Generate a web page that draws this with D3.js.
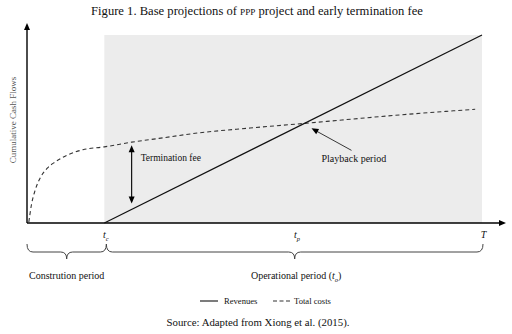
<!DOCTYPE html>
<html>
<head>
<meta charset="utf-8">
<script src="https://cdn.jsdelivr.net/npm/d3@7"></script>
<style>
  html, body { margin: 0; padding: 0; background: #fff; }
  svg { display: block; font-family: "Liberation Serif", "DejaVu Serif", serif; }
</style>
</head>
<body>
<svg id="chart" width="512" height="334"></svg>
<script>
// Time axis (0 = start of construction, 100 = end of concession T)
const tc = 17;      // completion of construction
const tp = 59;      // payback time
const T = 100;      // end of concession

// Cumulative revenues: zero until completion, then linear growth
const revenueTime = [17, 100];
const revenueValue = [0, 100];

// Cumulative total costs: steep during construction, flattening afterwards
const costTime  = [0.4, 1, 1.8, 2.9, 4.4, 6.2, 8.8, 12.3, 17, 23, 29, 38, 49, 61, 82, 98.5];
const costValue = [0.5, 10, 17.5, 24, 29, 32.5, 36, 39, 40.5, 43, 45, 48, 50.5, 53, 57.5, 60.5];

// Tick labels on the time axis
const tickTimes = [tc, tp, T];
const tickMain = ["t", "t", "T"];
const tickSub  = ["c", "p", ""];

const feeTime = 23;   // where the termination fee is illustrated

const svg = d3.select("#chart");
const x = d3.scaleLinear().domain([0, 100]).range([27, 482]);
const y = d3.scaleLinear().domain([0, 100]).range([223, 35]);

// Title
const title = svg.append("text")
  .attr("x", 257).attr("y", 15)
  .attr("text-anchor", "middle")
  .attr("font-size", 12.6)
  .attr("fill", "#111");
title.append("tspan").text("Figure 1. Base projections of ");
title.append("tspan").attr("font-size", 9.2).text("PPP");
title.append("tspan").text(" project and early termination fee");

// Operational period shading
svg.append("rect")
  .attr("x", x(tc)).attr("y", y(100))
  .attr("width", x(T) - x(tc)).attr("height", y(0) - y(100))
  .attr("fill", "#ececec");

// Axes with arrowheads
const axisG = svg.append("g").attr("stroke", "#000").attr("fill", "#000");
axisG.append("line").attr("x1", x(0)).attr("y1", y(0)).attr("x2", x(0)).attr("y2", 29)
  .attr("stroke-width", 1.4);
axisG.append("path").attr("d", `M${x(0)},23 L${x(0) - 3},30 L${x(0) + 3},30 Z`).attr("stroke", "none");
axisG.append("line").attr("x1", x(0)).attr("y1", y(0)).attr("x2", 500).attr("y2", y(0))
  .attr("stroke-width", 1.4);
axisG.append("path").attr("d", `M506,${y(0)} L499,${y(0) - 3} L499,${y(0) + 3} Z`).attr("stroke", "none");

// Tick labels via d3 axis
const xAxis = d3.axisBottom(x).tickValues(tickTimes).tickSize(0).tickFormat(() => "");
const axG = svg.append("g").attr("transform", `translate(1,${y(0) + 3})`).call(xAxis);
axG.select(".domain").remove();
axG.selectAll(".tick text").each(function(d, i) {
  const t = d3.select(this)
    .attr("font-family", "Liberation Serif, serif")
    .attr("font-size", 10)
    .attr("font-style", "italic")
    .attr("fill", "#111")
    .attr("dy", "0.9em");
  t.append("tspan").text(tickMain[i]);
  if (tickSub[i]) t.append("tspan").attr("font-size", 6.5).attr("dy", 2.5).text(tickSub[i]);
});

// Total costs (dashed)
const costPts = costTime.map((t, i) => [t, costValue[i]]);
svg.append("path")
  .datum(costPts)
  .attr("fill", "none")
  .attr("stroke", "#333")
  .attr("stroke-width", 1.1)
  .attr("stroke-dasharray", "4,3")
  .attr("d", d3.line().x(d => x(d[0])).y(d => y(d[1])).curve(d3.curveMonotoneX));

// Revenues (solid)
const revPts = revenueTime.map((t, i) => [t, revenueValue[i]]);
svg.append("path")
  .datum(revPts)
  .attr("fill", "none")
  .attr("stroke", "#111")
  .attr("stroke-width", 1.2)
  .attr("d", d3.line().x(d => x(d[0])).y(d => y(d[1])));

// Helpers for values at a given time
const revAt = t => d3.scaleLinear().domain(revenueTime).range(revenueValue)(t);
const costAt = t => d3.scaleLinear().domain(costTime).range(costValue)(t);

// Termination fee double arrow
const fx = x(feeTime), fTop = y(costAt(feeTime)) + 3, fBot = y(revAt(feeTime)) - 6;
svg.append("line").attr("x1", fx).attr("x2", fx).attr("y1", fTop + 6).attr("y2", fBot - 6)
  .attr("stroke", "#000").attr("stroke-width", 1.1);
svg.append("path").attr("d", `M${fx},${fTop} L${fx - 3},${fTop + 7} L${fx + 3},${fTop + 7} Z`);
svg.append("path").attr("d", `M${fx},${fBot} L${fx - 3},${fBot - 7} L${fx + 3},${fBot - 7} Z`);
svg.append("text").attr("x", fx + 9).attr("y", y(costAt(feeTime)) + 19)
  .attr("font-size", 9.5).attr("fill", "#111").text("Termination fee");

// Payback point: where revenues meet total costs
let crossT = tp;
for (let i = 0; i < costTime.length - 1; i++) {
  const a = costTime[i], b = costTime[i + 1];
  if (a < tc) continue;
  const da = revAt(a) - costAt(a), db = revAt(b) - costAt(b);
  if (da <= 0 && db >= 0) { crossT = a + (b - a) * (-da) / (db - da); break; }
}
const cx = x(crossT), cy = y(revAt(crossT));
const tipX = cx + 7, tipY = cy + 5, tailX = cx + 47, tailY = cy + 27;
const ang = Math.atan2(tipY - tailY, tipX - tailX);
svg.append("line").attr("x1", tailX).attr("y1", tailY).attr("x2", tipX - 5 * Math.cos(ang)).attr("y2", tipY - 5 * Math.sin(ang))
  .attr("stroke", "#222").attr("stroke-width", 0.9);
const hl = 7, hw = 3;
const bx = tipX - hl * Math.cos(ang), by = tipY - hl * Math.sin(ang);
svg.append("path").attr("d",
  `M${tipX},${tipY} L${bx - hw * Math.sin(ang)},${by + hw * Math.cos(ang)} L${bx + hw * Math.sin(ang)},${by - hw * Math.cos(ang)} Z`);
svg.append("text").attr("x", tipX + 10).attr("y", tipY + 34)
  .attr("font-size", 10).attr("fill", "#111").text("Playback period");

// Y axis title
svg.append("text")
  .attr("transform", `translate(16,120) rotate(-90)`)
  .attr("text-anchor", "middle")
  .attr("font-size", 9).attr("fill", "#555")
  .text("Cumulative Cash Flows");

// Curly braces for the two periods
function brace(x1, x2, yTop, yLine, yTip) {
  const m = (x1 + x2) / 2, q = 6;
  return `M${x1},${yTop} Q${x1},${yLine} ${x1 + q},${yLine} L${m - q},${yLine} Q${m},${yLine} ${m},${yTip}` +
         ` Q${m},${yLine} ${m + q},${yLine} L${x2 - q},${yLine} Q${x2},${yLine} ${x2},${yTop}`;
}
svg.append("path").attr("d", brace(x(0), x(tc) + 2, 244, 252, 259))
  .attr("fill", "none").attr("stroke", "#444").attr("stroke-width", 1);
svg.append("path").attr("d", brace(x(tc) + 2, x(T) + 1, 244, 252, 259))
  .attr("fill", "none").attr("stroke", "#444").attr("stroke-width", 1);

svg.append("text").attr("x", (x(0) + x(tc)) / 2 + 1).attr("y", 279)
  .attr("text-anchor", "middle").attr("font-size", 10).attr("fill", "#111")
  .text("Constrution period");
const op = svg.append("text").attr("x", (x(tc) + x(T)) / 2 + 3).attr("y", 279)
  .attr("text-anchor", "middle").attr("font-size", 10).attr("fill", "#111");
op.append("tspan").text("Operational period (");
op.append("tspan").attr("font-style", "italic").text("t");
op.append("tspan").attr("font-style", "italic").attr("font-size", 6.5).attr("dy", 2.5).text("o");
op.append("tspan").attr("dy", -2.5).text(")");

// Legend
const lg = svg.append("g").attr("font-size", 8.6).attr("fill", "#111");
lg.append("line").attr("x1", 200).attr("x2", 218).attr("y1", 301).attr("y2", 301)
  .attr("stroke", "#111").attr("stroke-width", 1.1);
lg.append("text").attr("x", 224).attr("y", 304).text("Revenues");
lg.append("line").attr("x1", 273).attr("x2", 291).attr("y1", 301).attr("y2", 301)
  .attr("stroke", "#333").attr("stroke-width", 1.1).attr("stroke-dasharray", "4,2.5");
lg.append("text").attr("x", 294).attr("y", 304).text("Total costs");

// Source note
svg.append("text").attr("x", 258).attr("y", 326)
  .attr("text-anchor", "middle").attr("font-size", 10.8).attr("fill", "#111")
  .text("Source: Adapted from Xiong et al. (2015).");
</script>
</body>
</html>
